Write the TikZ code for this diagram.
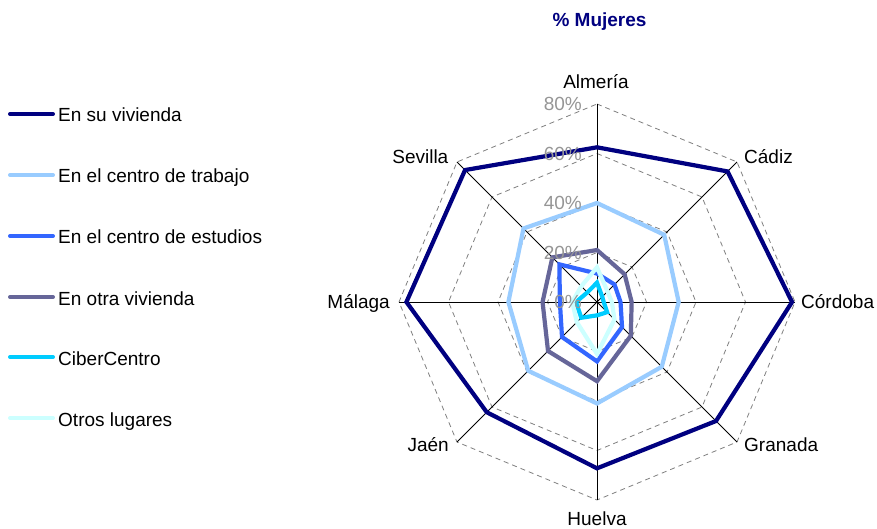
\documentclass[tikz,border=0pt]{standalone}
\usepackage{fontspec}
\setmainfont{Liberation Sans}

\definecolor{suvivline}{RGB}{0,0,128}
\definecolor{trabajoline}{RGB}{153,204,255}
\definecolor{estudiosline}{RGB}{51,102,255}
\definecolor{otravivline}{RGB}{102,102,153}
\definecolor{ciberline}{RGB}{0,204,255}
\definecolor{otrosline}{RGB}{204,255,255}
\definecolor{ticklabel}{RGB}{150,150,150}

\begin{document}
\begin{tikzpicture}[x=1pt, y=1pt, font=\fontsize{19}{22}\selectfont,
	serie/.style={line width=4.2pt},
	legline/.style={line width=4pt, line cap=round},
	gridline/.style={draw=gray, line width=0.8pt, dash pattern=on 5pt off 4pt},
	spoke/.style={draw=black, line width=0.8pt},
	ticklbl/.style={text=ticklabel, inner sep=0pt, anchor=base east},
	city/.style={inner sep=0pt}]
	\fill[white] (0,0) rectangle (877,528);
	\useasboundingbox (0,0) rectangle (877,528);

	% title
	\node[city, anchor=base, text=suvivline] (titulo) at (599.5,501) {\textbf{\% Mujeres}};

	% legend
	\draw[legline, suvivline] (10,414) -- (53,414);
	\node[city, anchor=base west] (leg1) at (58,406) {En su vivienda};
	\draw[legline, trabajoline] (10,353) -- (53,353);
	\node[city, anchor=base west] (leg2) at (58,345) {En el centro de trabajo};
	\draw[legline, estudiosline] (10,292) -- (53,292);
	\node[city, anchor=base west] (leg3) at (58,284) {En el centro de estudios};
	\draw[legline, otravivline] (10,231) -- (53,231);
	\node[city, anchor=base west] (leg4) at (58,223) {En otra vivienda};
	\draw[legline, ciberline] (10,171) -- (53,171);
	\node[city, anchor=base west] (leg5) at (58,163) {CiberCentro};
	\draw[legline, otrosline] (10,110) -- (53,110);
	\node[city, anchor=base west] (leg6) at (58,102) {Otros lugares};

	\begin{scope}[shift={(597pt,226pt)}, x=2.475pt, y=2.475pt]
		% grid
		\draw[gridline] (90:20) -- (45:20) -- (0:20) -- (-45:20) -- (-90:20) -- (-135:20) -- (180:20) -- (135:20) -- cycle;
		\draw[gridline] (90:40) -- (45:40) -- (0:40) -- (-45:40) -- (-90:40) -- (-135:40) -- (180:40) -- (135:40) -- cycle;
		\draw[gridline] (90:60) -- (45:60) -- (0:60) -- (-45:60) -- (-90:60) -- (-135:60) -- (180:60) -- (135:60) -- cycle;
		\draw[gridline] (90:80) -- (45:80) -- (0:80) -- (-45:80) -- (-90:80) -- (-135:80) -- (180:80) -- (135:80) -- cycle;
		% axes
		\draw[spoke] (90:80) -- (-90:80);
		\draw[spoke] (0:80) -- (180:80);
		\draw[spoke] (45:80) -- (-135:80);
		\draw[spoke] (135:80) -- (-45:80);
		% series
		\draw[serie, suvivline] (90:62.5) -- (45:74.6) -- (0:78.8) -- (-45:68) -- (-90:67.2) -- (-135:63) -- (180:77) -- (135:75.4) -- cycle;
		\draw[serie, trabajoline] (90:40) -- (45:38.4) -- (0:33) -- (-45:37) -- (-90:41) -- (-135:39.3) -- (180:35.8) -- (135:42) -- cycle;
		\draw[serie, estudiosline] (90:11.5) -- (45:10) -- (0:9.5) -- (-45:14.3) -- (-90:24) -- (-135:20) -- (180:15) -- (135:21.5) -- cycle;
		\draw[serie, otravivline] (90:21) -- (45:15.8) -- (0:14) -- (-45:19.3) -- (-90:32) -- (-135:28) -- (180:22) -- (135:25.5) -- cycle;
		\draw[serie, ciberline] (90:7.8) -- (45:3) -- (0:2.7) -- (-45:5.8) -- (-90:5.4) -- (-135:9) -- (180:8.5) -- (135:5.5) -- cycle;
		\draw[serie, otrosline] (90:14) -- (45:6) -- (0:6) -- (-45:10) -- (-90:21) -- (-135:11.5) -- (180:10) -- (135:9) -- cycle;
	\end{scope}

	% category labels
	\node[city, anchor=base] (almeria) at (596,439.6) {Almería};
	\node[city, anchor=base west] (cadiz) at (744,364.3) {Cádiz};
	\node[city, anchor=base west] (cordoba) at (801,219.3) {Córdoba};
	\node[city, anchor=base west] (granada) at (744,76.3) {Granada};
	\node[city, anchor=base] (huelva) at (597,2.5) {Huelva};
	\node[city, anchor=base east] (jaen) at (449,76.3) {Jaén};
	\node[city, anchor=base east] (malaga) at (390,219.3) {Málaga};
	\node[city, anchor=base east] (sevilla) at (448.5,364.3) {Sevilla};

	% value labels
	\node[ticklbl] (t80) at (582,417.3) {80\%};
	\node[ticklbl] (t60) at (582,367.8) {60\%};
	\node[ticklbl] (t40) at (582,318.3) {40\%};
	\node[ticklbl] (t20) at (582,268.8) {20\%};
	\node[ticklbl] (t0) at (582,219.3) {0\%};
\end{tikzpicture}
\end{document}
